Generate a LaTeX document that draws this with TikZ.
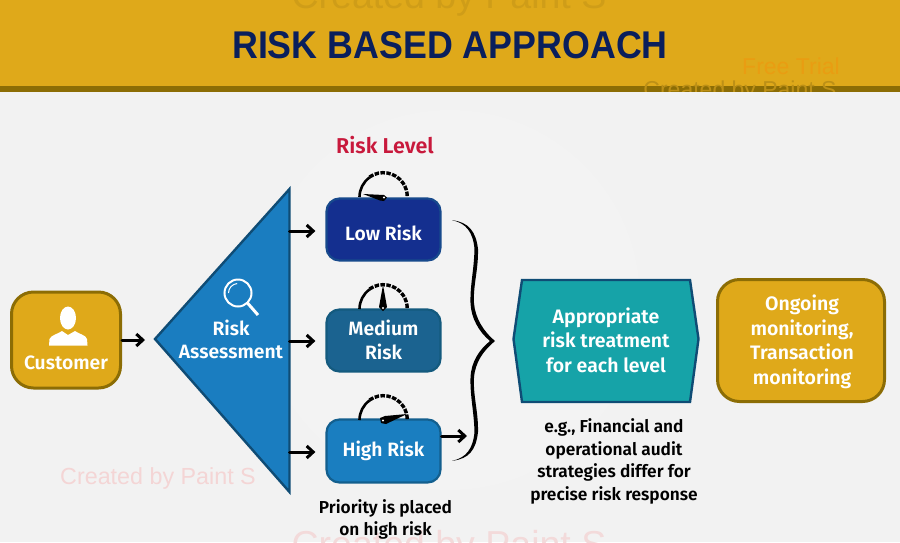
\documentclass[tikz,border=0pt]{standalone}
\usepackage{fontspec}
\setmainfont{Fira Sans}[UprightFont=* SemiBold,BoldFont=* Bold]
\newfontfamily\titlefont{Liberation Sans}[Scale=1]
\newfontfamily\wmfont{Liberation Sans}
\usetikzlibrary{arrows.meta}
\definecolor{pagebg}{HTML}{F2F2F2}
\definecolor{gold}{HTML}{DFA91A}
\definecolor{golddark}{HTML}{8C6D05}
\definecolor{navy}{HTML}{0A1F5C}
\definecolor{lowfill}{HTML}{142F8F}
\definecolor{lowedge}{HTML}{17498C}
\definecolor{medfill}{HTML}{1B6390}
\definecolor{mededge}{HTML}{145A7E}
\definecolor{highfill}{HTML}{1A7EC0}
\definecolor{highedge}{HTML}{135F8E}
\definecolor{trifill}{HTML}{1A7DC0}
\definecolor{triedge}{HTML}{0F4C75}
\definecolor{tealfill}{HTML}{16A3A8}
\definecolor{riskred}{HTML}{C8193C}
\tikzset{
  x=1pt,y=-1pt,
  fs/.style={font=\fontsize{#1}{24.5}\selectfont},
  riskbox/.style={rectangle,rounded corners=13pt,minimum width=114pt,minimum height=62pt,line width=2.2pt,text=white,align=center,inner sep=0pt,fs=19.3},
  goldbox/.style={rectangle,rounded corners=22pt,fill=gold,draw=golddark,line width=3pt,text=white,align=center,inner sep=0pt},
  link/.style={line width=3pt,black,-{Straight Barb[length=6.5pt,width=12pt,line width=3pt]},line cap=round},
  gaugearc/.style={line width=2.6pt,black},
  needle/.style={fill=black},
  plain/.style={text=white,align=center,inner sep=0pt},
  note/.style={text=black,align=center,inner sep=0pt,fs=17.3},
  watermark/.style={font=\wmfont\fontsize{#1}{#1}\selectfont,inner sep=0pt}
}
\begin{document}
\begin{tikzpicture}
\useasboundingbox (0,0) rectangle (900,542);
\clip (0,0) rectangle (900,542);
\fill[pagebg] (0,0) rectangle (900,542);
% faint background logo
\fill[white,opacity=.1] (450,300) circle (190);
\fill[gold] (0,0) rectangle (900,86);
\fill[golddark] (0,86) rectangle (900,92);
\node[watermark=37.5,text=gold!93!black] (wmtop) at (449,-1) {Created by Paint S};
\node[watermark=23,text=orange!30!gold] (wmfree) at (791,66) {Free Trial};
\node[watermark=23,text=gold!85!black] (wmhead) at (740,92) {Created by Paint S};
\fill[pagebg] (0,92) rectangle (900,110);
\node[watermark=23.3,text=red!12!pagebg] (wmleft) at (158,478) {Created by Paint S};
\node[watermark=37.5,text=red!10!pagebg] (wmbot) at (449,548) {Created by Paint S};
\node[font=\titlefont\bfseries\fontsize{35.8}{36}\selectfont,text=navy,inner sep=0pt,yscale=1.08,transform shape] (title) at (450,45) {RISK BASED APPROACH};
\node[text=riskred,inner sep=0pt,fs=21.5] (level) at (385,145) {Risk Level};
% customer
\node[goldbox,minimum width=109pt,minimum height=96pt] (customer) at (66,340) {};
\fill[white] (68,318) ellipse (8 and 11.5);
\fill[white] (49,345.5) -- (49.5,339) .. controls (51,335) and (58,334) .. (62,331) -- (68,335) -- (75,331) .. controls (79,334) and (86,335) .. (87,339) -- (87.5,345.5) -- cycle;
\node[plain,fs=19.3] (custlabel) at (66,363) {Customer};
% triangle
\coordinate (apex) at (155,339);
\coordinate (tritop) at (289.5,189);
\coordinate (tribot) at (289.5,492);
\coordinate (outlow) at (289.5,231);
\coordinate (outmed) at (289.5,341);
\coordinate (outhigh) at (289.5,452);
\draw[fill=trifill,draw=triedge,line width=2.4pt,line join=miter] (tritop) -- (apex) -- (tribot) -- cycle;
\draw[white,line width=2pt] (238,293) circle (13.5);
\draw[white,line width=3pt] (247.5,303) -- (258,315);
\draw[white,line width=1pt] (228.5,293) arc[start angle=180,end angle=265,radius=9.5];
\node[plain,fs=19.3] (tri1) at (231,328) {Risk};
\node[plain,fs=19.3] (tri2) at (231,352) {Assessment};
% risk boxes
\node[riskbox,fill=lowfill,draw=lowedge] (low) at (383.5,229.5) {};
\node[plain,fs=19.3] (lowlabel) at (383.5,233) {Low Risk};
\node[riskbox,fill=medfill,draw=mededge,align=center] (med) at (383.5,340.5) {\raisebox{1.5pt}{Medium}\\[-0.5pt]\raisebox{1.5pt}{Risk}};
\node[riskbox,fill=highfill,draw=highedge,minimum height=63pt] (high) at (383.5,451) {High Risk};
% gauges
\foreach \cy/\nm in {197/a,309/b,420/c}{
  \draw[gaugearc] (359.5,\cy) arc[start angle=180,end angle=235,radius=24];
  \draw[gaugearc,line width=3.4pt,dash pattern=on 4.5pt off 1.4pt] (369.5,\cy-20) arc[start angle=235,end angle=360,radius=24];
}
\fill[needle] (363,194) -- (384,195) -- (387,197.5) -- (384,201) -- (380,200.5) -- cycle;
\fill[needle] (383,285) -- (387,307) -- (383,311) -- (379,307) -- cycle;
\fill[needle] (407,414) -- (386,424) -- (381,423) -- (380,418) -- (385,416) -- cycle;
\fill[white] (384,197.5) circle (1.2);
\fill[white] (383,308) circle (1.2);
\fill[white] (383,420.5) circle (1.2);
% arrows
\draw[link,shorten >=10pt] (customer.east) -- (customer.east -| apex);
\draw[link,shorten >=10pt] (outlow) -- (outlow -| low.west);
\draw[link,shorten >=10pt] (outmed) -- (outmed -| med.west);
\draw[link,shorten >=10pt] (outhigh) -- (outhigh -| high.west);
\coordinate (bracein) at (477,436);
\draw[link,shorten >=10pt] (high.east |- bracein) -- (bracein);
% brace
\fill[black] (452,220.2) .. controls (469,222) and (476,232) .. (478,249)
  .. controls (478.5,270) and (473,285) .. (474,303)
  .. controls (475,318) and (484,332) .. (495,341)
  .. controls (484,350) and (475,362) .. (474,378)
  .. controls (473,396) and (478.5,412) .. (478,432)
  .. controls (476,450) and (469,459) .. (452,460.8)
  .. controls (466,458) and (473,449) .. (474.5,432)
  .. controls (474,412) and (470,396) .. (470.5,378)
  .. controls (471,362) and (479,350) .. (490,341)
  .. controls (479,332) and (471,318) .. (470.5,303)
  .. controls (470,285) and (474,270) .. (474.5,249)
  .. controls (473,232) and (466,223) .. (452,220.2) -- cycle;
% hexagon
\coordinate (hexA) at (522,280);
\coordinate (hexB) at (690,280);
\coordinate (hexC) at (698.5,339);
\coordinate (hexD) at (690,402);
\coordinate (hexE) at (522,402);
\coordinate (hexF) at (513.5,339);
\draw[fill=tealfill,draw=triedge,line width=2.4pt] (hexA) -- (hexB) -- (hexC) -- (hexD) -- (hexE) -- (hexF) -- cycle;
\node[plain,fs=19.5] (treat) at (606,340) {Appropriate\\risk treatment\\for each level};
\node[goldbox,minimum width=167pt,minimum height=122pt] (ongoing) at (801,340.5) {};
\node[plain,fs=19.5] (ongoinglabel) at (802,342) {Ongoing\\monitoring,\\Transaction\\monitoring};
% notes
\node[note] (note1) at (614,461.5) {e.g., Financial and\\[-2pt]operational audit\\[-2pt]strategies differ for\\[-2pt]precise risk response};
\node[note] (note2) at (385.5,519) {Priority is placed\\[-2.5pt]on high risk};
\end{tikzpicture}
\end{document}
